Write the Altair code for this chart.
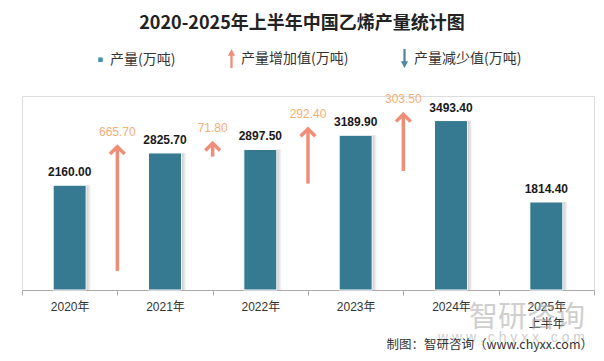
import altair as alt
import pandas as pd

# ---- data ----
years = ["2020年", "2021年", "2022年", "2023年", "2024年", "2025年\n上半年"]
output = [2160.00, 2825.70, 2897.50, 3189.90, 3493.40, 1814.40]
inc_from = ["2020年", "2021年", "2022年", "2023年"]
inc_vals = [665.70, 71.80, 292.40, 303.50]
legend_labels = ["产量(万吨)", "产量增加值(万吨)", "产量减少值(万吨)"]
title_text = "2020-2025年上半年中国乙烯产量统计图"
source_text = "制图：智研咨询（www.chyxx.com）"

# ---- style ----
BAR = "#367A91"
UP = "#EF8E78"
UP_TXT = "#F4AE76"
DOWN = "#4D8AA2"
SQ = "#4A8FA8"
NUM_FONT = "'Liberation Sans', 'Noto Sans CJK SC', sans-serif"
CJK_FONT = "'Noto Sans CJK SC', sans-serif"

bars_df = pd.DataFrame({"year": years, "value": output,
                        "label": [f"{v:.2f}" for v in output]})

# arrow geometry derived from data: tip a little above the next bar, length ~ change
head_gap = 130.0
len_factor = 3.85
nxt = output[1:len(inc_vals) + 1]
arr_df = pd.DataFrame({
    "year": inc_from,
    "top": [n + head_gap for n in nxt],
    "base": [n + head_gap - d * len_factor for n, d in zip(nxt, inc_vals)],
    "label": [f"{d:.2f}" for d in inc_vals],
})
leg_df = pd.DataFrame({"item": legend_labels})

x_scale = alt.Scale(paddingInner=0, paddingOuter=0)
y_scale = alt.Scale(domain=[0, 4000])
x_axis = alt.Axis(title=None, labelAngle=0, tickBand="extent", tickSize=5,
                  domainColor="#aaaaaa", tickColor="#aaaaaa", labelColor="#333333",
                  labelFontSize=12, labelFont=NUM_FONT, labelPadding=6,
                  labelLineHeight=17, grid=False,
                  labelExpr="split(datum.label, '\\n')")

x_enc = alt.X("year:N", sort=years, scale=x_scale, axis=x_axis)
x_arr = alt.X("year:N", sort=years, scale=x_scale, axis=x_axis, bandPosition=1)

shadow = alt.Chart(bars_df).mark_bar(
    size=33, xOffset=5,
    color=alt.Gradient(gradient="linear", x1=0, x2=1, y1=0, y2=0,
                       stops=[alt.GradientStop(color="#b5b5b5", offset=0),
                              alt.GradientStop(color="#b5b5b5", offset=0.8),
                              alt.GradientStop(color="#ffffff", offset=1)])
).encode(x=x_enc, y=alt.Y("value:Q", scale=y_scale, axis=None))

bars = alt.Chart(bars_df).mark_bar(
    size=33, color=BAR, stroke="white", strokeWidth=1
).encode(x=x_enc, y=alt.Y("value:Q", scale=y_scale, axis=None))

bar_text = alt.Chart(bars_df).mark_text(
    dy=-13, fontSize=12, fontWeight="bold", font=NUM_FONT, color="#1a1a1a",
    baseline="middle"
).encode(x=x_enc, y=alt.Y("value:Q", scale=y_scale, axis=None), text="label:N")

shaft = alt.Chart(arr_df).mark_rule(
    color=UP, strokeWidth=3.5
).encode(x=x_arr, y=alt.Y("top:Q", scale=y_scale, axis=None), y2="base:Q")

head = alt.Chart(arr_df).mark_point(
    shape="M-1,1L0,0L1,1", size=150, filled=False, stroke=UP, strokeWidth=3.5,
    opacity=1, strokeCap="square"
).encode(x=x_arr, y=alt.Y("top:Q", scale=y_scale, axis=None))

arr_text = alt.Chart(arr_df).mark_text(
    dy=-15, fontSize=12, font=NUM_FONT, color=UP_TXT, baseline="middle"
).encode(x=x_arr, y=alt.Y("top:Q", scale=y_scale, axis=None), text="label:N")

sym_paths = [
    "M-0.24,-0.24L0.24,-0.24L0.24,0.24L-0.24,0.24Z",
    "M-0.12,1L0.12,1L0.12,-0.3L0.38,-0.3L0,-1L-0.38,-0.3L-0.12,-0.3Z",
    "M-0.12,-1L0.12,-1L0.12,0.3L0.38,0.3L0,1L-0.38,0.3L-0.12,0.3Z",
]
leg = alt.Legend(title=None, orient="none", legendX=69, legendY=-47,
                 direction="horizontal", columnPadding=46, padding=0,
                 labelOffset=0, labelFontSize=14, labelFont=CJK_FONT,
                 labelColor="#333333", symbolSize=360, symbolOpacity=1,
                 symbolStrokeWidth=0, labelLimit=300)
legend_layer = alt.Chart(leg_df).mark_point(filled=True, opacity=0).encode(
    color=alt.Color("item:N", sort=legend_labels,
                    scale=alt.Scale(domain=legend_labels, range=[SQ, UP, DOWN]),
                    legend=leg),
    shape=alt.Shape("item:N", sort=legend_labels,
                    scale=alt.Scale(domain=legend_labels, range=sym_paths),
                    legend=leg),
)

wm_df = pd.DataFrame({"t": ["智研咨询"]})
wm = alt.Chart(wm_df).mark_text(
    align="right", baseline="middle", fontSize=29, font=CJK_FONT,
    color="#a8a8a8", opacity=0.55
).encode(x=alt.value(563), y=alt.value(222), text="t:N")
wm2_df = pd.DataFrame({"t": ["w w w . c h y x x . c o m"]})
wm2 = alt.Chart(wm2_df).mark_text(
    align="right", baseline="middle", fontSize=14, font=NUM_FONT,
    color="#a8a8a8", opacity=0.55
).encode(x=alt.value(563), y=alt.value(242), text="t:N")

src_df = pd.DataFrame({"t": [source_text]})
src = alt.Chart(src_df).mark_text(
    align="right", baseline="middle", fontSize=12.5, font=CJK_FONT, color="#333333"
).encode(x=alt.value(571), y=alt.value(249), text="t:N")

chart = alt.layer(
    shadow, bars, bar_text, shaft, head, arr_text, legend_layer, wm, wm2, src
).properties(
    width=572, height=194,
    title=alt.TitleParams(title_text, anchor="middle", fontSize=18,
                          font=CJK_FONT, fontWeight="bold", color="#222222",
                          offset=16, dx=-6),
    autosize=alt.AutoSizeParams(type="none"),
    padding={"left": 14, "top": 88, "right": 2, "bottom": 63},
).configure_view(stroke=None).configure(background="white")

chart.save("out.html", embed_options={"renderer": "svg", "actions": False})
